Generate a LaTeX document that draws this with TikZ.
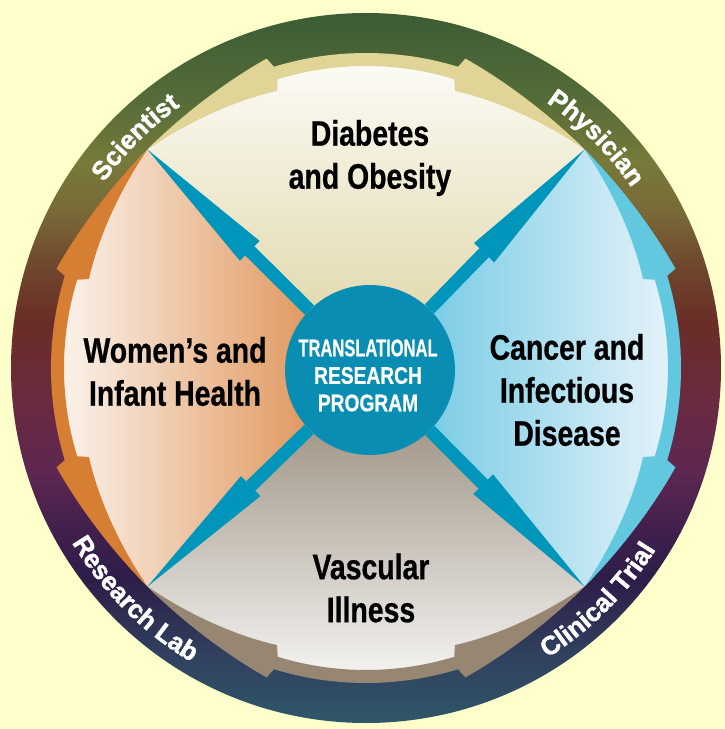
\documentclass[tikz,border=0pt]{standalone}
\usepackage{fontspec}
\setmainfont{Liberation Sans}
\newfontfamily\condfont{Liberation Sans}[FakeStretch=0.8, FakeBold=0.6]
\newfontfamily\ringbold{Liberation Sans Bold}[FakeBold=1.6]
\usetikzlibrary{arrows.meta, decorations.text}

\definecolor{paper}{HTML}{FFFFCC}
\definecolor{hubblue}{HTML}{0A8DB2}
\definecolor{crossblue}{HTML}{0096BC}
\definecolor{arrowbeige}{HTML}{E0D596}
\definecolor{arrowsky}{HTML}{62C8E0}
\definecolor{arrowtaupe}{HTML}{968672}
\definecolor{arroworange}{HTML}{D67E32}
\definecolor{sectop}{HTML}{DDD3A0}
\definecolor{secleft}{HTML}{DA8440}
\definecolor{secright}{HTML}{5EC2E0}
\definecolor{secrightend}{HTML}{F4F8FC}
\definecolor{secbottom}{HTML}{8E8270}
\definecolor{secbottommid}{HTML}{C4BCB0}
% ring colours, bottom to top
\definecolor{ringA}{HTML}{2F5768}
\definecolor{ringB}{HTML}{303F5E}
\definecolor{ringC}{HTML}{2D1D48}
\definecolor{ringD}{HTML}{3C1F4C}
\definecolor{ringE}{HTML}{5E2750}
\definecolor{ringF}{HTML}{6A2A40}
\definecolor{ringG}{HTML}{6A2E26}
\definecolor{ringH}{HTML}{704A2E}
\definecolor{ringI}{HTML}{7A6A38}
\definecolor{ringJ}{HTML}{767A3A}
\definecolor{ringK}{HTML}{556C38}
\definecolor{ringL}{HTML}{3C5C35}

\pgfdeclareverticalshading{ringshade}{100bp}{color(0bp)=(ringA); color(25bp)=(ringA);
  color(30.1bp)=(ringB); color(35.1bp)=(ringC); color(37.9bp)=(ringD); color(42.8bp)=(ringE);
  color(47.7bp)=(ringF); color(53.4bp)=(ringG); color(57.6bp)=(ringH); color(61.1bp)=(ringI);
  color(64.6bp)=(ringJ); color(68.9bp)=(ringK); color(75bp)=(ringL); color(100bp)=(ringL)}

\newcommand{\ringfont}{\ringbold\fontsize{26}{26}\selectfont}

\begin{document}
\begin{tikzpicture}[x=1pt, y=1pt,
    bigtext/.style={font=\condfont\bfseries\fontsize{35.5}{43}\selectfont, align=center, inner sep=0pt},
    hub/.style={circle, fill=hubblue, minimum size=170pt, inner sep=0pt},
    hubtext/.style={font=\condfont\bfseries\fontsize{24}{27.5}\selectfont, align=center, text=white, inner sep=0pt},
    cross/.style={line width=13pt, draw=crossblue, -{Triangle[length=144pt, width=28pt, line width=0pt]}},
    ringtext/.style={decorate, decoration={text along path, text align=center, text color=white}}]

    % Background and outer ring
    \fill[paper] (-366pt,-361pt) rectangle (359pt,368pt);
    \shade[shading=ringshade] (0,0) circle[radius=355pt];

    % Quadrants
    \shade[top color=white, bottom color=sectop] (0,0) -- (135:309pt) arc[start angle=135, end angle=45, radius=309pt] -- cycle;
    \shade[left color=white, right color=secleft] (0,0) -- (225:309pt) arc[start angle=225, end angle=135, radius=309pt] -- cycle;
    \shade[left color=secright, right color=secrightend] (0,0) -- (-45:309pt) arc[start angle=-45, end angle=45, radius=309pt] -- cycle;
    \shade[top color=secbottom, middle color=secbottommid, bottom color=white] (0,0) -- (225:309pt) arc[start angle=225, end angle=315, radius=309pt] -- cycle;

    % Ring arrows
    \foreach \rot/\col in {90/arrowbeige, 0/arrowsky, 270/arrowtaupe, 180/arroworange}
        \fill[\col, rotate=\rot] (17.8:291pt) -- (17:302pt) arc[start angle=17, end angle=-17, radius=302pt]
            -- (-17.8:291pt) .. controls (-26:298pt) and (-36:304pt) .. (-45:309pt)
            .. controls (-36:313pt) and (-26:319pt) .. (-17.8:325pt) -- (-17:315pt)
            arc[start angle=-17, end angle=17, radius=315pt] -- (17.8:325pt)
            .. controls (26:319pt) and (36:313pt) .. (45:309pt)
            .. controls (36:304pt) and (26:298pt) .. (17.8:291pt) -- cycle;

    % Nodes
    \node[hub] (hub) at (4pt,-2pt) {};
    \coordinate (ne) at (45:309pt);
    \coordinate (nw) at (135:309pt);
    \coordinate (sw) at (225:309pt);
    \coordinate (se) at (315:309pt);
    \node[hubtext] (hubtitle) at (2pt,-7.5pt) {\scalebox{0.86}[1]{TRANSLATIONAL}\\RESEARCH\\PROGRAM};
    \node[bigtext] (diabetes) at (4pt,210pt) {Diabetes\\and Obesity};
    \node[bigtext] (women) at (-191pt,-3.5pt) {Women’s and\\Infant Health};
    \node[bigtext] (cancer) at (201pt,-22pt) {Cancer and\\Infectious\\Disease};
    \node[bigtext] (vascular) at (5pt,-220pt) {Vascular\\Illness};

    % Arrows
    \draw[cross] (hub) -- (ne);
    \draw[cross] (hub) -- (nw);
    \draw[cross] (hub) -- (sw);
    \draw[cross] (hub) -- (se);

    % Ring labels
    \path[ringtext, decoration={text={|\ringfont|Scientist}}] (165:321pt) arc[start angle=165, end angle=105, radius=321pt];
    \path[ringtext, decoration={text={|\ringfont|Physician}}] (75:321pt) arc[start angle=75, end angle=15, radius=321pt];
    \path[ringtext, decoration={text={|\ringfont|Research Lab}}] (190:342pt) arc[start angle=190, end angle=260, radius=342pt];
    \path[ringtext, decoration={text={|\ringfont|Clinical Trial}}] (280:342pt) arc[start angle=280, end angle=350, radius=342pt];
\end{tikzpicture}
\end{document}
